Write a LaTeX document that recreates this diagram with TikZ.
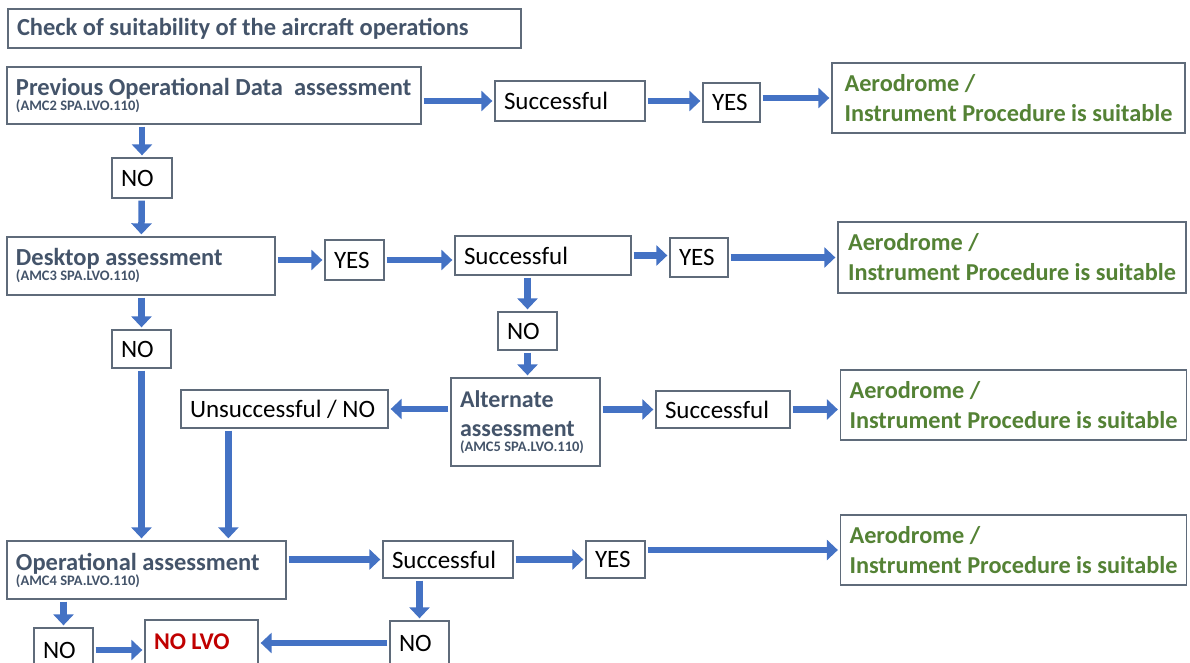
\documentclass[tikz,border=0pt]{standalone}
\usepackage{fontspec}
\setmainfont{Carlito}
\usetikzlibrary{arrows.meta}
\definecolor{arrblue}{HTML}{4472C4}
\definecolor{slate}{HTML}{44546A}
\definecolor{okgreen}{HTML}{548235}
\definecolor{lvored}{HTML}{C00000}
\definecolor{edge}{HTML}{5F6B7A}
\newcommand\amcref[1]{{\fontsize{14.5}{12}\selectfont (#1)}}
\begin{document}
\begin{tikzpicture}[x=1pt,y=-1pt,
    box/.style={draw=edge, line width=1.3pt, inner xsep=9pt, inner ysep=0pt, align=flush left,
        font=\fontsize{25}{26}\selectfont},
    head/.style={box, text=slate, font=\fontsize{24.5}{24}\selectfont\bfseries},
    goal/.style={box, text=okgreen, minimum width=#1,
        font=\fontsize{24.3}{30}\selectfont\bfseries},
    arr/.style={draw=arrblue, line width=6.5pt, -{Triangle[width=20pt,length=11pt]},
        shorten <=2pt, shorten >=2pt}]
\useasboundingbox (0,0) rectangle (1190,663);

% left column
    \node[head, minimum height=39, text width=495] (title) at (264.5,28.5) {Check of suitability of the aircraft operations};
    \node[head, minimum height=57, text width=396] (prev) at (214,95.5)
        {Previous Operational Data\ \ assessment\\[-9pt]\amcref{AMC2 SPA.LVO.110}};
    \node[box, minimum height=40, text width=42] (noa) at (142,178) {NO};
    \node[head, minimum height=58, text width=250] (desk) at (141,266)
        {Desktop assessment\\[-9pt]\amcref{AMC3 SPA.LVO.110}};
    \node[box, minimum height=38, text width=41] (noc) at (141.5,349) {NO};
    \node[head, minimum height=58, text width=261] (oper) at (146.5,570)
        {Operational assessment\\[-9pt]\amcref{AMC4 SPA.LVO.110}};
    \node[box, minimum height=44, text width=41] (nod) at (63.5,650) {NO};
    \node[box, minimum height=44, text width=95, text=lvored, font=\fontsize{24}{24}\selectfont\bfseries] (nolvo) at (201.5,642) {NO LVO};
    \node[box, minimum height=44, text width=41] (noe) at (419.5,643) {NO};

% middle
    \node[box, minimum height=40, text width=132] (succa) at (570,101) {Successful};
    \node[box, minimum height=39, text width=39] (yesa) at (731.5,102.5) {YES};
    \node[box, minimum height=40, text width=41] (yesb) at (354.5,260) {YES};
    \node[box, minimum height=39, text width=158] (succb) at (543,255.5) {Successful};
    \node[box, minimum height=39, text width=40] (yesc) at (699,257.5) {YES};
    \node[box, minimum height=38, text width=41] (nob) at (527.5,331) {NO};
    \node[head, minimum height=88, text width=131, font=\fontsize{24}{29}\selectfont\bfseries] (alt) at (525.5,422)
        {Alternate\\assessment\\[-14pt]\amcref{AMC5 SPA.LVO.110}};
    \node[box, minimum height=38, text width=189] (unsucc) at (284.5,409) {Unsuccessful / NO};
    \node[box, minimum height=37, text width=116] (succc) at (723,409.5) {Successful};
    \node[box, minimum height=37, text width=112] (succd) at (448,559.5) {Successful};
    \node[box, minimum height=37, text width=41] (yesd) at (615.5,559.5) {YES};

% results
    \node[goal=353, minimum height=70] (greena) at (1008.5,98) {Aerodrome /\\Instrument Procedure is suitable};
    \node[goal=348, minimum height=71] (greenb) at (1012,257.5) {Aerodrome /\\Instrument Procedure is suitable};
    \node[goal=345, minimum height=70] (greenc) at (1013.5,405) {Aerodrome /\\Instrument Procedure is suitable};
    \node[goal=345, minimum height=70] (greend) at (1013.5,550) {Aerodrome /\\Instrument Procedure is suitable};

\draw[arr] (prev.east |- succa) -- (succa.west);
\draw[arr] (succa.east) -- (succa.east -| yesa.west);
\draw[arr] (yesa.east |- greena) -- (greena.west);
\draw[arr] (prev.south -| noa) -- (noa.north);
\draw[arr] (noa) -- (desk);
\draw[arr] (desk.east |- yesb) -- (yesb.west);
\draw[arr] (yesb) -- (yesb -| succb.west);
\draw[arr] (succb) -- (succb -| yesc.west);
\draw[arr] (yesc) -- (yesc -| greenb.west);
\draw[arr] (succb.south -| nob) -- (nob.north);
\draw[arr] (nob.south) -- (nob.south |- alt.north);
\draw[arr] (alt.west |- unsucc) -- (unsucc.east);
\draw[arr] (alt.east |- succc) -- (succc.west);
\draw[arr] (succc.east) -- (succc.east -| greenc.west);
\draw[arr] (desk.south -| noc) -- (noc.north);
\draw[arr] (noc.south) -- (noc.south |- oper.north);
\draw[arr] ([xshift=48pt]unsucc.south west) -- ([xshift=48pt]unsucc.south west |- oper.north);
\draw[arr] (oper.east |- succd) -- (succd.west);
\draw[arr] (succd) -- (yesd);
\draw[arr] (yesd.east |- greend) -- (greend.west);
\draw[arr] (oper.south -| nod) -- (nod.north);
\draw[arr] (nod.east) -- (nod.east -| nolvo.west);
\draw[arr] (succd.south -| noe) -- (noe.north);
\draw[arr] (noe.west) -- (noe.west -| nolvo.east);
\end{tikzpicture}
\end{document}
